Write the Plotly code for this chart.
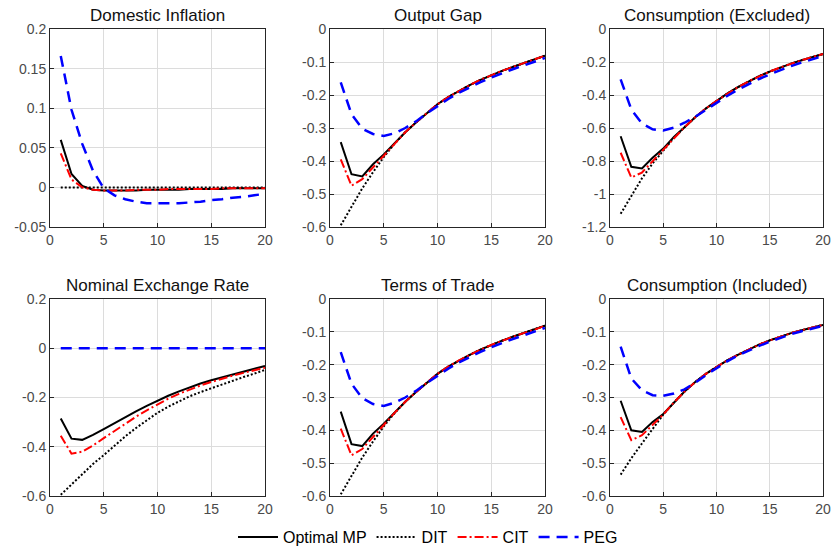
import plotly.graph_objects as go

periods = list(range(1, 21))

# Domestic Inflation
infl_opt = [0.060, 0.017, 0.002, -0.003, -0.004, -0.004, -0.004, -0.004, -0.003, -0.003, -0.003, -0.003, -0.002, -0.002, -0.002, -0.002, -0.001, -0.001, -0.001, -0.001]
infl_dit = [0.0] * 20
infl_cit = [0.043, 0.010, 0.000, -0.003, -0.004, -0.004, -0.004, -0.003, -0.003, -0.003, -0.002, -0.002, -0.002, -0.002, -0.002, -0.001, -0.001, -0.001, -0.001, -0.001]
infl_peg = [0.166, 0.098, 0.055, 0.021, -0.001, -0.010, -0.015, -0.018, -0.020, -0.020, -0.020, -0.020, -0.019, -0.018, -0.016, -0.015, -0.013, -0.012, -0.010, -0.008]

# Output Gap
gap_opt = [-0.343, -0.440, -0.447, -0.410, -0.380, -0.345, -0.313, -0.283, -0.255, -0.228, -0.206, -0.187, -0.170, -0.154, -0.140, -0.127, -0.115, -0.104, -0.094, -0.081]
gap_dit = [-0.595, -0.537, -0.483, -0.434, -0.388, -0.348, -0.313, -0.283, -0.255, -0.228, -0.206, -0.187, -0.170, -0.154, -0.140, -0.127, -0.115, -0.104, -0.094, -0.081]
gap_cit = [-0.395, -0.475, -0.455, -0.420, -0.385, -0.347, -0.313, -0.283, -0.255, -0.228, -0.206, -0.187, -0.170, -0.154, -0.140, -0.127, -0.115, -0.104, -0.094, -0.081]
gap_peg = [-0.162, -0.258, -0.302, -0.318, -0.324, -0.316, -0.300, -0.280, -0.256, -0.233, -0.212, -0.193, -0.176, -0.161, -0.147, -0.134, -0.122, -0.111, -0.100, -0.088]

# Consumption (Excluded)
cex_opt = [-0.650, -0.835, -0.845, -0.780, -0.725, -0.655, -0.595, -0.535, -0.482, -0.436, -0.392, -0.353, -0.318, -0.286, -0.258, -0.233, -0.210, -0.189, -0.170, -0.152]
cex_dit = [-1.120, -1.010, -0.905, -0.815, -0.735, -0.660, -0.595, -0.535, -0.482, -0.436, -0.392, -0.353, -0.318, -0.286, -0.258, -0.233, -0.210, -0.189, -0.170, -0.152]
cex_cit = [-0.750, -0.900, -0.870, -0.800, -0.735, -0.660, -0.595, -0.535, -0.482, -0.436, -0.392, -0.353, -0.318, -0.286, -0.258, -0.233, -0.210, -0.189, -0.170, -0.152]
cex_peg = [-0.305, -0.488, -0.572, -0.608, -0.615, -0.598, -0.568, -0.532, -0.490, -0.447, -0.406, -0.368, -0.334, -0.303, -0.275, -0.249, -0.225, -0.203, -0.183, -0.164]

# Nominal Exchange Rate
ner_opt = [-0.285, -0.367, -0.372, -0.352, -0.328, -0.303, -0.279, -0.256, -0.234, -0.213, -0.193, -0.175, -0.158, -0.143, -0.130, -0.118, -0.106, -0.095, -0.085, -0.072]
ner_dit = [-0.595, -0.552, -0.510, -0.470, -0.434, -0.395, -0.358, -0.324, -0.292, -0.262, -0.237, -0.215, -0.195, -0.178, -0.162, -0.146, -0.131, -0.117, -0.103, -0.088]
ner_cit = [-0.355, -0.428, -0.420, -0.395, -0.365, -0.335, -0.305, -0.278, -0.252, -0.227, -0.205, -0.185, -0.167, -0.151, -0.137, -0.123, -0.111, -0.100, -0.089, -0.079]
ner_peg = [0.0] * 20

# Terms of Trade
tot_opt = [-0.343, -0.442, -0.448, -0.410, -0.380, -0.345, -0.313, -0.283, -0.255, -0.228, -0.206, -0.187, -0.170, -0.154, -0.140, -0.127, -0.115, -0.104, -0.094, -0.081]
tot_dit = [-0.595, -0.537, -0.483, -0.434, -0.388, -0.348, -0.313, -0.283, -0.255, -0.228, -0.206, -0.187, -0.170, -0.154, -0.140, -0.127, -0.115, -0.104, -0.094, -0.081]
tot_cit = [-0.395, -0.476, -0.457, -0.420, -0.385, -0.347, -0.313, -0.283, -0.255, -0.228, -0.206, -0.187, -0.170, -0.154, -0.140, -0.127, -0.115, -0.104, -0.094, -0.081]
tot_peg = [-0.162, -0.258, -0.302, -0.320, -0.326, -0.316, -0.300, -0.280, -0.256, -0.233, -0.212, -0.193, -0.176, -0.161, -0.147, -0.134, -0.122, -0.111, -0.100, -0.088]

# Consumption (Included)
cin_opt = [-0.310, -0.400, -0.405, -0.375, -0.350, -0.315, -0.282, -0.253, -0.228, -0.207, -0.187, -0.170, -0.154, -0.139, -0.126, -0.114, -0.104, -0.095, -0.087, -0.079]
cin_dit = [-0.535, -0.485, -0.440, -0.395, -0.352, -0.315, -0.282, -0.253, -0.228, -0.207, -0.187, -0.170, -0.154, -0.139, -0.126, -0.114, -0.104, -0.095, -0.087, -0.079]
cin_cit = [-0.360, -0.430, -0.415, -0.385, -0.352, -0.315, -0.282, -0.253, -0.228, -0.207, -0.187, -0.170, -0.154, -0.139, -0.126, -0.114, -0.104, -0.095, -0.087, -0.079]
cin_peg = [-0.145, -0.242, -0.278, -0.293, -0.295, -0.288, -0.275, -0.255, -0.232, -0.210, -0.190, -0.172, -0.157, -0.143, -0.130, -0.118, -0.107, -0.098, -0.090, -0.082]

titles = ["Domestic Inflation", "Output Gap", "Consumption (Excluded)",
          "Nominal Exchange Rate", "Terms of Trade", "Consumption (Included)"]
panels = [
    (infl_opt, infl_dit, infl_cit, infl_peg),
    (gap_opt, gap_dit, gap_cit, gap_peg),
    (cex_opt, cex_dit, cex_cit, cex_peg),
    (ner_opt, ner_dit, ner_cit, ner_peg),
    (tot_opt, tot_dit, tot_cit, tot_peg),
    (cin_opt, cin_dit, cin_cit, cin_peg),
]
y_ticks = [
    [-0.05, 0, 0.05, 0.1, 0.15, 0.2],
    [-0.6, -0.5, -0.4, -0.3, -0.2, -0.1, 0],
    [-1.2, -1, -0.8, -0.6, -0.4, -0.2, 0],
    [-0.6, -0.4, -0.2, 0, 0.2],
    [-0.6, -0.5, -0.4, -0.3, -0.2, -0.1, 0],
    [-0.6, -0.5, -0.4, -0.3, -0.2, -0.1, 0],
]
x_ticks = [0, 5, 10, 15, 20]
series_names = ["Optimal MP", "DIT", "CIT", "PEG"]

W, H = 836, 552
x_px = [(50, 265), (330, 545), (610, 823)]
y_px = [(29, 227), (299, 496)]

styles = [
    dict(color="black", width=2, dash="solid"),
    dict(color="black", width=2, dash="2px,2px"),
    dict(color="#ff0000", width=2, dash="9px,3px,2px,3px"),
    dict(color="#0000ff", width=2.5, dash="11px,7px"),
]

def fmt(v):
    return "%g" % v

fig = go.Figure()
font_family = "Liberation Sans, Arial, sans-serif"
tick_font = dict(size=14, color="#4a4a4a", family=font_family)
for i, (title, data) in enumerate(zip(titles, panels)):
    r, c = divmod(i, 3)
    xa = "xaxis" if i == 0 else f"xaxis{i+1}"
    ya = "yaxis" if i == 0 else f"yaxis{i+1}"
    xref = "x" if i == 0 else f"x{i+1}"
    yref = "y" if i == 0 else f"y{i+1}"
    for k, (name, vals) in enumerate(zip(series_names, data)):
        fig.add_trace(go.Scatter(
            x=periods, y=vals, mode="lines", name=name,
            line=styles[k], xaxis=xref, yaxis=yref,
            showlegend=(i == 0), legendrank=k,
        ))
    ticks = y_ticks[i]
    fig.update_layout(**{
        xa: dict(domain=[x_px[c][0] / W, x_px[c][1] / W], range=[0, 20],
                 tickvals=x_ticks, ticktext=[fmt(t) for t in x_ticks],
                 showgrid=True, gridcolor="#dcdcdc", zeroline=False,
                 showline=True, linecolor="#262626", linewidth=1, mirror=True,
                 ticks="inside", ticklen=4, tickcolor="#262626",
                 tickfont=tick_font, automargin=False, anchor=yref),
        ya: dict(domain=[1 - y_px[r][1] / H, 1 - y_px[r][0] / H],
                 range=[ticks[0], ticks[-1]],
                 tickvals=ticks, ticktext=[fmt(t) for t in ticks],
                 showgrid=True, gridcolor="#dcdcdc", zeroline=False,
                 showline=True, linecolor="#262626", linewidth=1, mirror=True,
                 ticks="inside", ticklen=4, tickcolor="#262626",
                 tickfont=tick_font, automargin=False, anchor=xref),
    })
    fig.add_annotation(
        text=title, x=(x_px[c][0] + x_px[c][1]) / 2 / W,
        y=1 - (y_px[r][0] - 14) / H, xref="paper", yref="paper",
        showarrow=False, xanchor="center", yanchor="middle",
        font=dict(size=17, color="#111111", family=font_family),
    )

fig.update_layout(
    width=W, height=H,
    margin=dict(l=0, r=0, t=0, b=0, autoexpand=False),
    paper_bgcolor="white", plot_bgcolor="white",
    legend=dict(orientation="h", x=428 / W, xanchor="center", y=1 - 537 / H,
                yanchor="middle", font=dict(size=16, color="black", family=font_family),
                itemwidth=40, tracegroupgap=0, bgcolor="rgba(0,0,0,0)"),
)

fig.write_html("out.html", config={"displayModeBar": False},
               post_script="document.body.style.margin='0';document.body.style.overflow='hidden';")
